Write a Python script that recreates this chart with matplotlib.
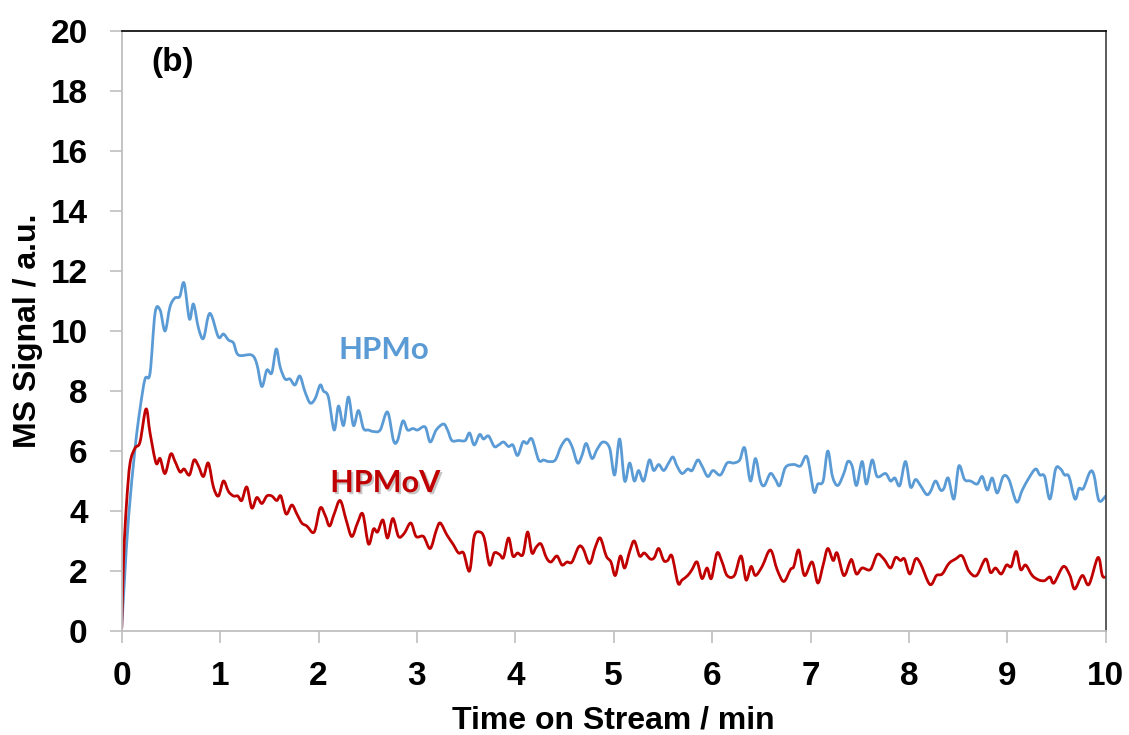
"""MS signal vs. time on stream for HPMo and HPMoV catalysts (panel b)."""

import matplotlib

matplotlib.use("Agg")
import matplotlib.pyplot as plt
import matplotlib.patheffects as pe
from matplotlib.patches import PathPatch
from matplotlib.path import Path
import numpy as np

# HPMo trace (time / min, signal / a.u.)
hpmo_t = [
    0.00, 0.03, 0.07, 0.136, 0.186, 0.237, 0.288, 0.339, 0.39, 0.44, 0.49, 0.54,
    0.59, 0.634, 0.688, 0.729, 0.78, 0.83, 0.88, 0.915, 0.983, 1.034, 1.085,
    1.136, 1.186, 1.32, 1.373, 1.424, 1.475, 1.525, 1.57, 1.61, 1.66, 1.71,
    1.76, 1.81, 1.86, 1.915, 1.966, 2.017, 2.05, 2.10, 2.159, 2.203, 2.254,
    2.304, 2.355, 2.406, 2.457, 2.508, 2.559, 2.627, 2.701, 2.762, 2.803,
    2.857, 2.905, 2.959, 3.006, 3.084, 3.135, 3.196, 3.27, 3.311, 3.355,
    3.423, 3.491, 3.535, 3.582, 3.637, 3.677, 3.728, 3.786, 3.83, 3.88,
    3.931, 3.975, 4.023, 4.077, 4.118, 4.169, 4.237, 4.288, 4.338, 4.406,
    4.464, 4.525, 4.576, 4.633, 4.677, 4.721, 4.779, 4.83, 4.89, 4.958,
    5.009, 5.06, 5.111, 5.162, 5.209, 5.253, 5.304, 5.362, 5.406, 5.457,
    5.508, 5.558, 5.602, 5.643, 5.694, 5.752, 5.796, 5.853, 5.897, 5.955,
    6.009, 6.084, 6.152, 6.219, 6.28, 6.331, 6.389, 6.44, 6.49, 6.531,
    6.592, 6.643, 6.687, 6.745, 6.83, 6.897, 6.965, 7.033, 7.074, 7.128,
    7.175, 7.223, 7.277, 7.338, 7.379, 7.423, 7.467, 7.524, 7.568, 7.626,
    7.677, 7.762, 7.813, 7.857, 7.907, 7.965, 8.016, 8.067, 8.117, 8.179,
    8.219, 8.27, 8.321, 8.355, 8.399, 8.457, 8.507, 8.565, 8.626, 8.694,
    8.745, 8.796, 8.846, 8.897, 8.958, 9.016, 9.094, 9.152, 9.219, 9.287,
    9.331, 9.379, 9.433, 9.491, 9.541, 9.582, 9.626, 9.687, 9.728, 9.772,
    9.84, 9.88, 9.931, 10.0,
]
hpmo_v = [
    0.1, 1.8, 3.8, 6.1, 7.4, 8.4, 8.6, 10.6, 10.7, 10.0, 10.8, 11.1,
    11.15, 11.6, 10.4, 10.9, 10.1, 9.75, 10.5, 10.5, 9.8, 9.9, 9.7,
    9.6, 9.2, 9.2, 8.9, 8.15, 8.7, 8.6, 9.4, 8.8, 8.4, 8.4,
    8.2, 8.5, 8.0, 7.6, 7.75, 8.2, 8.0, 7.8, 6.7, 7.5, 6.85,
    7.8, 6.85, 7.35, 6.75, 6.7, 6.65, 6.7, 7.3, 6.35, 6.35,
    7.0, 6.7, 6.75, 6.7, 6.8, 6.3, 6.7, 6.9, 6.7, 6.35,
    6.35, 6.35, 6.6, 6.2, 6.55, 6.4, 6.5, 6.15, 6.2, 6.3,
    6.15, 6.2, 5.85, 6.3, 6.25, 6.4, 5.7, 5.7, 5.65, 5.7,
    6.15, 6.4, 6.15, 5.6, 5.85, 6.25, 5.75, 6.05, 6.3, 6.1,
    5.2, 6.4, 5.0, 5.6, 5.0, 5.35, 5.0, 5.7, 5.35, 5.55,
    5.35, 5.6, 5.8, 5.5, 5.25, 5.4, 5.35, 5.7, 5.5, 5.15,
    5.35, 5.2, 5.6, 5.6, 5.7, 6.1, 5.0, 5.75, 5.0, 4.85,
    5.25, 5.05, 4.85, 5.45, 5.55, 5.5, 5.8, 4.65, 4.9, 5.0,
    6.0, 5.15, 4.85, 5.25, 5.65, 5.5, 4.85, 5.65, 4.9, 5.7,
    5.15, 5.25, 5.0, 5.1, 4.85, 5.65, 4.8, 5.05, 4.85, 4.55,
    4.65, 5.0, 4.7, 4.75, 5.1, 4.4, 5.5, 5.05, 5.0, 4.9,
    5.15, 4.7, 5.1, 4.6, 5.15, 5.05, 4.3, 4.7, 5.1, 5.4,
    5.2, 5.15, 4.4, 5.4, 5.4, 5.2, 5.15, 4.4, 4.75, 4.75,
    5.3, 5.2, 4.35, 4.5,
]

# HPMoV trace (time / min, signal / a.u.)
hpmov_t = [
    0.00, 0.02, 0.05, 0.085, 0.136, 0.186, 0.247, 0.288, 0.349, 0.39, 0.44,
    0.498, 0.542, 0.593, 0.634, 0.688, 0.735, 0.78, 0.83, 0.88, 0.932,
    0.983, 1.034, 1.085, 1.136, 1.18, 1.22, 1.271, 1.322, 1.373, 1.424,
    1.475, 1.525, 1.576, 1.617, 1.671, 1.729, 1.78, 1.83, 1.881, 1.956,
    2.017, 2.068, 2.112, 2.159, 2.22, 2.281, 2.338, 2.396, 2.45, 2.508,
    2.559, 2.6, 2.654, 2.701, 2.755, 2.813, 2.87, 2.938, 2.992, 3.067,
    3.135, 3.196, 3.237, 3.305, 3.366, 3.423, 3.474, 3.535, 3.582, 3.637,
    3.684, 3.738, 3.786, 3.84, 3.88, 3.931, 3.975, 4.023, 4.077, 4.125,
    4.169, 4.213, 4.261, 4.315, 4.362, 4.423, 4.474, 4.525, 4.576, 4.643,
    4.688, 4.755, 4.813, 4.863, 4.924, 4.972, 5.016, 5.067, 5.111, 5.162,
    5.209, 5.263, 5.311, 5.372, 5.413, 5.457, 5.508, 5.548, 5.592, 5.653,
    5.694, 5.752, 5.796, 5.847, 5.897, 5.948, 5.992, 6.05, 6.101, 6.152,
    6.226, 6.294, 6.345, 6.396, 6.44, 6.508, 6.592, 6.66, 6.728, 6.796,
    6.83, 6.88, 6.938, 7.016, 7.074, 7.128, 7.175, 7.23, 7.27, 7.338,
    7.399, 7.423, 7.467, 7.524, 7.609, 7.677, 7.745, 7.813, 7.864, 7.914,
    7.955, 8.009, 8.067, 8.117, 8.213, 8.28, 8.338, 8.406, 8.474, 8.541,
    8.609, 8.687, 8.779, 8.829, 8.88, 8.938, 8.992, 9.04, 9.09, 9.135,
    9.186, 9.253, 9.321, 9.379, 9.433, 9.474, 9.569, 9.636, 9.684, 9.762,
    9.829, 9.921, 9.965, 10.0,
]
hpmov_v = [
    0.1, 2.5, 4.3, 5.6, 6.1, 6.3, 7.4, 6.6, 5.6, 5.75, 5.25,
    5.9, 5.65, 5.3, 5.4, 5.2, 5.7, 5.5, 5.15, 5.6, 4.8,
    4.5, 5.0, 4.65, 4.5, 4.5, 4.35, 4.8, 4.1, 4.45, 4.25,
    4.5, 4.5, 4.35, 4.5, 3.9, 4.2, 3.9, 3.6, 3.5, 3.3,
    4.1, 3.85, 3.5, 3.9, 4.35, 3.7, 3.15, 3.6, 3.9, 2.9,
    3.4, 3.3, 3.7, 3.1, 3.75, 3.15, 3.25, 3.6, 3.15, 3.15,
    2.75, 3.35, 3.6, 3.2, 2.9, 2.6, 2.6, 2.0, 3.15, 3.3,
    3.1, 2.2, 2.6, 2.55, 2.45, 3.1, 2.5, 2.6, 2.55, 3.3,
    2.6, 2.8, 2.9, 2.45, 2.3, 2.5, 2.2, 2.3, 2.3, 2.8,
    2.75, 2.25, 2.8, 3.1, 2.5, 2.3, 1.85, 2.5, 2.1, 2.65,
    3.0, 2.5, 2.6, 2.4, 2.45, 2.75, 2.35, 2.35, 2.5, 1.6,
    1.7, 1.85, 2.05, 2.3, 1.75, 2.1, 1.75, 2.6, 2.3, 1.85,
    1.85, 2.5, 1.7, 2.15, 1.85, 2.15, 2.7, 2.05, 1.65, 2.05,
    2.15, 2.7, 1.85, 2.3, 1.6, 2.2, 2.75, 2.35, 2.6, 1.85,
    2.3, 2.35, 1.9, 2.1, 2.05, 2.55, 2.4, 2.1, 2.45, 2.35,
    2.4, 1.9, 2.4, 2.25, 1.55, 1.85, 1.9, 2.25, 2.4, 2.5,
    2.0, 1.85, 2.4, 1.95, 2.1, 1.9, 2.2, 2.15, 2.65, 2.05,
    2.2, 1.85, 1.7, 1.68, 1.8, 1.6, 2.15, 1.85, 1.4, 1.85,
    1.55, 2.45, 1.85, 1.8,
]

x_ticks = list(range(0, 11))
y_ticks = list(range(0, 21, 2))

BLUE = "#5B9BD5"
RED = "#C00000"
GRAY = "#BFBFBF"


def smooth_path(xs, ys):
    """Bezier path through the points (Catmull-Rom style smoothed line)."""
    p = np.column_stack([xs, ys]).astype(float)
    padded = np.vstack([p[0], p, p[-1]])
    verts = [p[0]]
    codes = [Path.MOVETO]
    for i in range(len(p) - 1):
        p0, p1, p2, p3 = padded[i], padded[i + 1], padded[i + 2], padded[i + 3]
        verts += [p1 + (p2 - p0) / 6.0, p2 - (p3 - p1) / 6.0, p2]
        codes += [Path.CURVE4] * 3
    return Path(verts, codes)


fig = plt.figure(figsize=(11.29, 7.35), dpi=100)
ax = fig.add_axes([0.1078, 0.1415, 0.8716, 0.8163])

for xs, ys, color in [(hpmo_t, hpmo_v, BLUE), (hpmov_t, hpmov_v, RED)]:
    ax.add_patch(PathPatch(smooth_path(xs, ys), fill=False, edgecolor=color,
                           linewidth=2.0, joinstyle="round", capstyle="round"))

ax.set_xlim(0, 10)
ax.set_ylim(0, 20)
ax.set_xticks(x_ticks)
ax.set_yticks(y_ticks)

tick_font = dict(family="Liberation Sans", weight="bold", size=24)
ax.set_xticklabels([str(v) for v in x_ticks], **tick_font)
ax.set_yticklabels([str(v) for v in y_ticks], **tick_font)
ax.tick_params(axis="both", direction="out", length=8.5, width=1.2, color=GRAY)
ax.tick_params(axis="x", pad=13)
ax.tick_params(axis="y", pad=16)

ax.spines["left"].set_color(GRAY)
ax.spines["bottom"].set_color(GRAY)
ax.spines["left"].set_linewidth(1.3)
ax.spines["bottom"].set_linewidth(1.3)
ax.spines["top"].set_color("black")
ax.spines["right"].set_color("#404040")
ax.spines["top"].set_linewidth(1.2)
ax.spines["right"].set_linewidth(1.2)

label_font = dict(family="Liberation Sans", weight="bold", size=23)
ax.set_xlabel("Time on Stream / min", labelpad=10, **label_font)
ax.set_ylabel("MS Signal / a.u.", labelpad=5, **label_font)

ax.text(0.52, 18.95, "(b)", ha="center", va="center",
        family="Liberation Sans", weight="bold", size=24)
ax.text(2.667, 9.37, "HPMo", ha="center", va="center", color=BLUE,
        family="Lato", weight="bold", size=22.5)
ax.text(2.678, 4.93, "HPMoV", ha="center", va="center", color=RED,
        family="Lato", weight="bold", size=22,
        path_effects=[pe.withSimplePatchShadow(offset=(1.5, -1.5),
                                               shadow_rgbFace="gray", alpha=0.45)])

fig.savefig("out.png", dpi=100)
plt.close(fig)
